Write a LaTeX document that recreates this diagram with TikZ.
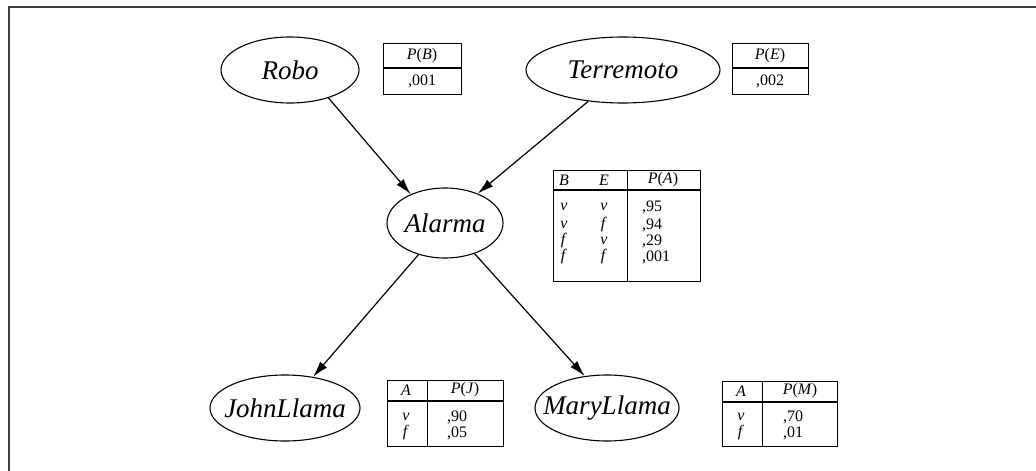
\documentclass[tikz,border=0pt]{standalone}
\usepackage{fontspec}
\setmainfont{Liberation Serif}
\usetikzlibrary{arrows.meta, shapes.geometric}
\tikzset{
  nodo/.style={ellipse, draw, line width=1.1pt, inner sep=0pt},
  rotulo/.style={font=\fontsize{27}{30}\selectfont\itshape, inner sep=0pt},
  tabla/.style={draw, line width=1pt},
  separa/.style={line width=2.4pt},
  celda/.style={font=\fontsize{16}{18}\selectfont, inner sep=0pt},
  flecha/.style={-{Latex[length=16pt, width=9pt]}, line width=1.2pt},
  marco/.style={line width=1.6pt, color=black!75},
}
\begin{document}
\begin{tikzpicture}[x=1pt, y=-1pt]
  \useasboundingbox (0,0) rectangle (1036,471);
  \draw[marco] (9,471) -- (9,7) -- (1036,7);

  % nodos de la red
  \node[nodo, minimum width=138, minimum height=66,
    label={[rotulo]center:Robo}] (robo) at (290,70) {};
  \node[nodo, minimum width=194, minimum height=66,
    label={[rotulo]center:Terremoto}] (terremoto) at (623,70) {};
  \node[nodo, minimum width=116, minimum height=70,
    label={[rotulo]center:Alarma}] (alarma) at (445,223) {};
  \node[nodo, minimum width=150, minimum height=66,
    label={[rotulo]center:JohnLlama}] (john) at (285,408) {};
  \node[nodo, minimum width=144, minimum height=66,
    label={[rotulo]center:MaryLlama}] (mary) at (607,408) {};

  \draw[flecha] (robo.-36) -- (alarma.140);
  \draw[flecha] (terremoto.-138) -- (alarma.42);
  \draw[flecha] (alarma.-130) -- (john.48);
  \draw[flecha] (alarma.-46) -- (mary.125);

  % tabla P(B)
  \draw[tabla] (383,43) rectangle (461,94);
  \draw[separa] (383,68) -- (461,68);
  \node[celda] (pb) at (422,56) {\textit{P}(\textit{B})};
  \node[celda] (pbv) at (422,81) {,001};

  % tabla P(E)
  \draw[tabla] (732,43) rectangle (808,94);
  \draw[separa] (732,68) -- (808,68);
  \node[celda] (pe) at (770,56) {\textit{P}(\textit{E})};
  \node[celda] (pev) at (770,81) {,002};

  % tabla P(A)
  \draw[tabla] (553,170) rectangle (700,281);
  \draw[separa] (553,190) -- (700,190);
  \draw[tabla] (627,170) -- (627,281);
  \node[celda] (ab) at (564,180) {\textit{B}};
  \node[celda] (ae) at (604,180) {\textit{E}};
  \node[celda] (pa) at (663,180) {\textit{P}(\textit{A})};
  \foreach \y/\b/\e/\p [count=\i] in {207/v/v/{,95}, 225/v/f/{,94}, 241/f/v/{,29}, 257/f/f/{,001}} {
    \node[celda] (ab\i) at (564,\y) {\textit{\b}};
    \node[celda] (ae\i) at (604,\y) {\textit{\e}};
    \node[celda, anchor=west] (pa\i) at (642,\y) {\p};
  }

  % tabla P(J)
  \draw[tabla] (387,380) rectangle (503,446);
  \draw[separa] (387,401) -- (503,401);
  \draw[tabla] (427,380) -- (427,446);
  \node[celda] (ja) at (406,390) {\textit{A}};
  \node[celda] (pj) at (465,390) {\textit{P}(\textit{J})};
  \node[celda] (ja1) at (406,417) {\textit{v}};
  \node[celda] (ja2) at (406,433) {\textit{f}};
  \node[celda, anchor=west] (pj1) at (447,417) {,90};
  \node[celda, anchor=west] (pj2) at (447,433) {,05};

  % tabla P(M)
  \draw[tabla] (722,381) rectangle (837,446);
  \draw[separa] (722,402) -- (837,402);
  \draw[tabla] (762,381) -- (762,446);
  \node[celda] (ma) at (741,391) {\textit{A}};
  \node[celda] (pm) at (800,391) {\textit{P}(\textit{M})};
  \node[celda] (ma1) at (741,417) {\textit{v}};
  \node[celda] (ma2) at (741,433) {\textit{f}};
  \node[celda, anchor=west] (pm1) at (783,417) {,70};
  \node[celda, anchor=west] (pm2) at (783,433) {,01};
\end{tikzpicture}
\end{document}
